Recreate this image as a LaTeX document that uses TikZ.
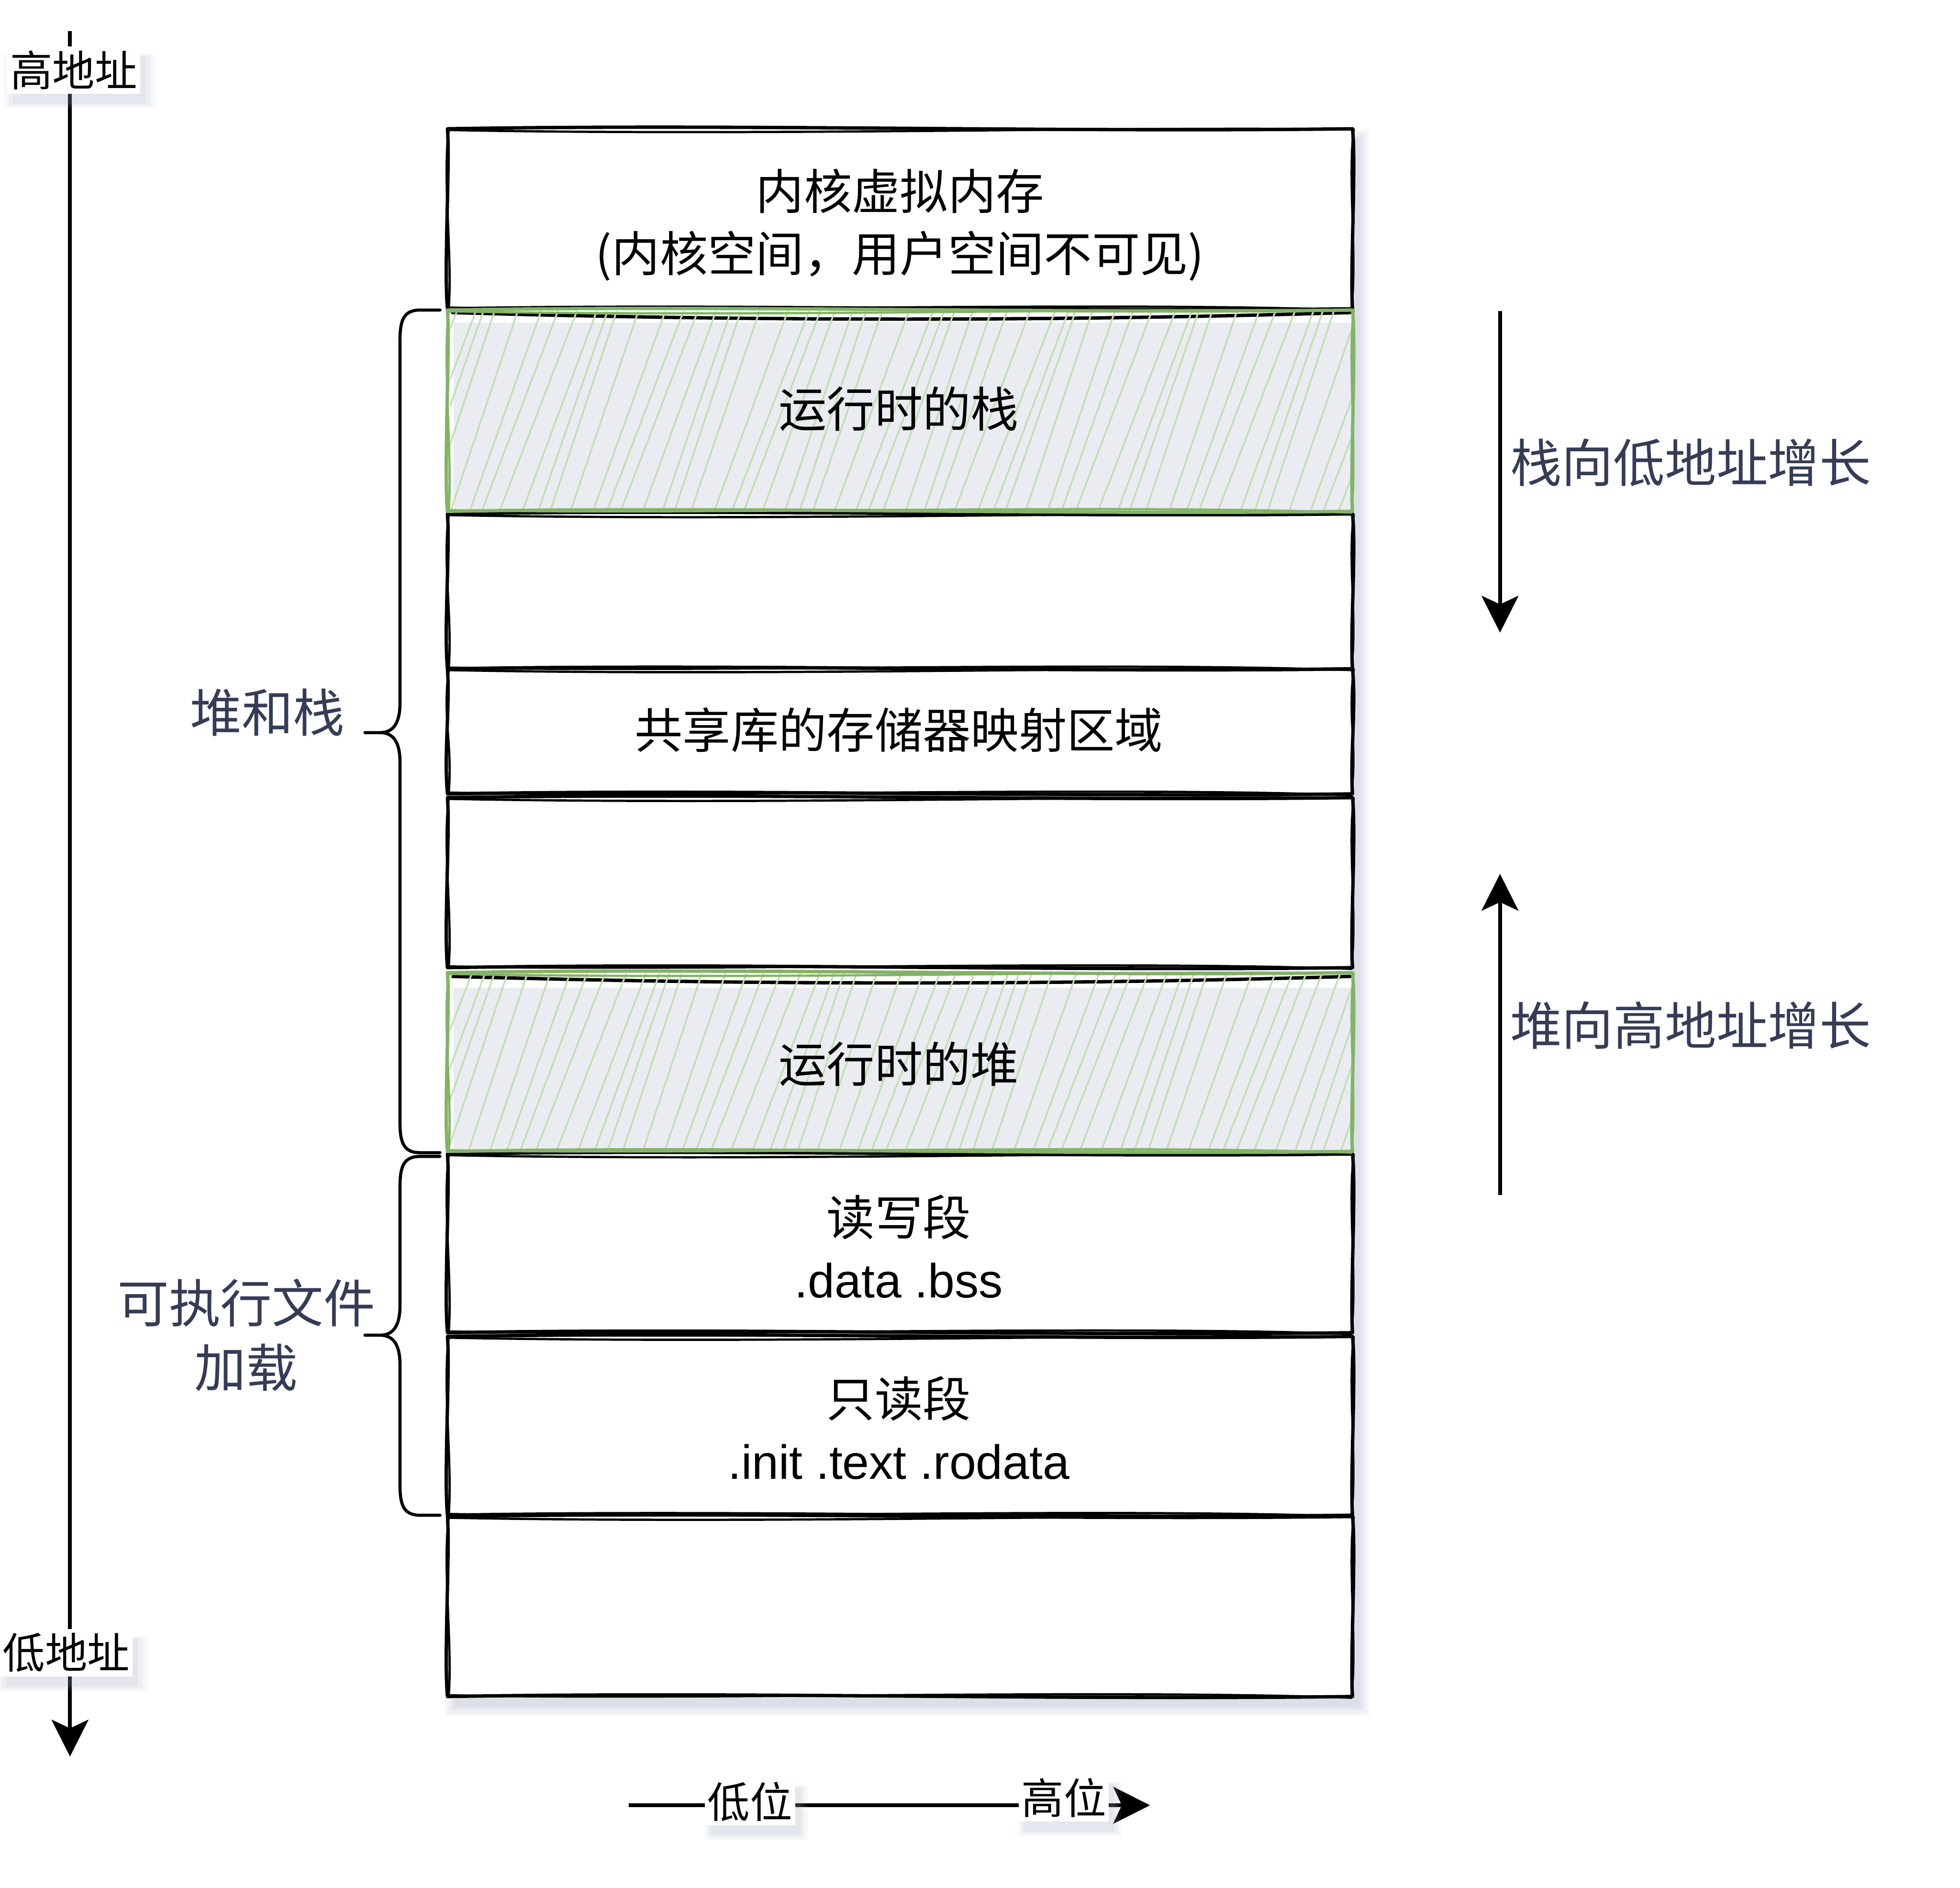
\documentclass[tikz,border=0pt]{standalone}
\usepackage{fontspec}
\setmainfont{Liberation Sans}
\newfontfamily\cjk{Noto Sans CJK SC}
\newfontfamily\lat{Liberation Sans}
\usetikzlibrary{arrows.meta,shadows}
\definecolor{grn}{HTML}{82B366}
\definecolor{hatchc}{HTML}{C3DEB6}
\definecolor{shd}{HTML}{A3A8C2}
\definecolor{shdin}{HTML}{EAECF2}
\definecolor{slate}{RGB}{54,60,85}
\tikzset{
  skl/.style={line width=2.4pt, line join=round, line cap=round},
  skltwo/.style={line width=1.6pt, line join=round, line cap=round},
  hatchl/.style={draw=hatchc, line width=1.2pt},
  arr/.style={line width=2.6pt, -{Stealth[length=26pt,width=26pt,inset=6pt]}},
  boxtext/.style={font=\cjk\fontsize{34}{44}\selectfont, align=center, inner sep=0pt},
  sidetext/.style={font=\cjk\fontsize{36.5}{46}\selectfont, text=slate, align=center, inner sep=0pt},
  axlbl/.style={font=\cjk\fontsize{30}{36}\selectfont, fill=white, inner xsep=2pt, inner ysep=3pt,
     general shadow={shadow xshift=4pt,shadow yshift=-7pt,fill=shd,opacity=0.12,shadow scale=1.0},
     general shadow={shadow xshift=4pt,shadow yshift=-7pt,fill=shd,opacity=0.10,shadow scale=1.07},
     general shadow={shadow xshift=4pt,shadow yshift=-7pt,fill=shd,opacity=0.08,shadow scale=1.14}},
  bracel/.style={line width=2.2pt, line join=round, line cap=round},
}
% sketchy rectangle: [colour]{x1}{y1}{x2}{y2}
\newcommand{\mySkRect}[5][black]{%
  \draw[skl,draw=#1] (#2,#3) .. controls ({#2+240},{#3-4}) and ({#4-240},{#3+3}) .. (#4,#3)
    .. controls ({#4+3},{#3+30}) and ({#4-2},{#5-30}) .. (#4,#5)
    .. controls ({#4-240},{#5+3}) and ({#2+240},{#5-4}) .. (#2,#5)
    .. controls ({#2-3},{#5-30}) and ({#2+2},{#3+30}) .. cycle;
  \draw[skltwo,draw=#1] ({#2+1},{#3+1}) .. controls ({#2+260},{#3+6}) and ({#4-200},{#3-2}) .. ({#4+1},{#3+0.5})
    .. controls ({#4-4},{#3+40}) and ({#4+4},{#5-40}) .. ({#4-1},{#5+1})
    .. controls ({#4-200},{#5-6}) and ({#2+200},{#5+3}) .. ({#2+1},{#5-1})
    .. controls ({#2+4},{#5-40}) and ({#2-4},{#3+40}) .. cycle;
}
\begin{document}
\begin{tikzpicture}[x=0.03112cm,y=-0.03112cm]
\useasboundingbox (0,0) rectangle (1568,1510);
\fill[white] (0,0) rectangle (1568,1510);

% column shadow (soft)
\foreach \k/\op in {0/0.10,2/0.10,4/0.09,6/0.07,8/0.05}
  \fill[shd,opacity=\op] ({364-\k},{111-\k}) rectangle ({1088+\k},{1365+\k});
\fill[white] (358,103) rectangle (1082,1357);
% shadow visible through hatched boxes
\fill[shdin] (363,258) rectangle (1082,410);
\fill[shdin] (363,790) rectangle (1082,922);

% white boxes
\mySkRect{358}{103}{1082}{247}
\mySkRect{358}{411}{1082}{535}
\mySkRect{358}{535}{1082}{635}
\mySkRect{358}{638}{1082}{774}
\mySkRect{358}{923}{1082}{1066}
\mySkRect{358}{1069}{1082}{1212}
\mySkRect{358}{1213}{1082}{1357}

% black lines under the hatching (look dashed)
\draw[skl] (362,250) .. controls (600,257) and (850,257) .. (1080,250);
\draw[skl] (362,781) .. controls (600,788) and (850,788) .. (1080,781);

% hatching
\begin{scope}
  \clip (360,249) rectangle (1081,409);
  \foreach \i in {0,...,56}
    \draw[hatchl] ({300+\i*14+3*sin(\i*97)},418) -- ++({64+5*cos(\i*53)},-178);
\end{scope}
\begin{scope}
  \clip (360,779) rectangle (1081,921);
  \foreach \i in {0,...,56}
    \draw[hatchl] ({302+\i*14+3*sin(\i*71)},930) -- ++({58+5*cos(\i*37)},-160);
\end{scope}

% green hatched boxes
\mySkRect[grn]{358}{248}{1082}{409}
\mySkRect[grn]{358}{778}{1082}{921}

% box labels
\node[boxtext] (kern) at (720,180) {内核虚拟内存\\(内核空间，用户空间不可见)};
\node[boxtext] (stack) at (719,327) {运行时的栈};
\node[boxtext] (shlib) at (719,584) {共享库的存储器映射区域};
\node[boxtext] (heap) at (719,851) {运行时的堆};
\node[boxtext] (rw) at (719,997) {读写段\\{\lat .data .bss}};
\node[boxtext] (ro) at (719,1142) {只读段\\{\lat .init .text .rodata}};

% braces
\draw[bracel] (352,248) -- (336,248) .. controls (323,248) and (320,256) .. (320,272)
  -- (320,562) .. controls (320,578) and (315,586) .. (304,586) -- (292,586)
  -- (304,586) .. controls (315,586) and (320,594) .. (320,610)
  -- (320,898) .. controls (320,914) and (323,922) .. (336,922) -- (352,922);
\draw[bracel] (352,925) -- (336,925) .. controls (323,925) and (320,933) .. (320,949)
  -- (320,1044) .. controls (320,1060) and (315,1068) .. (304,1068) -- (292,1068)
  -- (304,1068) .. controls (315,1068) and (320,1076) .. (320,1092)
  -- (320,1188) .. controls (320,1204) and (323,1212) .. (336,1212) -- (352,1212);
\node[sidetext] (hs) at (214,570) {堆和栈};
\node[sidetext] (exe) at (197,1068) {可执行文件\\加载};

% left address axis
\coordinate (axt) at (56,25);
\coordinate (axb) at (56,1405);
\draw[arr] (axt) -- (axb);
\node[axlbl] (hi) at (59,56) {高地址};
\node[axlbl] (lo) at (53,1322) {低地址};

% growth arrows
\coordinate (s1) at (1200,249);
\coordinate (s2) at (1200,506);
\draw[arr] (s1) -- (s2);
\node[sidetext,anchor=west] (sgrow) at (1208,370) {栈向低地址增长};
\coordinate (h1) at (1200,956);
\coordinate (h2) at (1200,699);
\draw[arr] (h1) -- (h2);
\node[sidetext,anchor=west] (hgrow) at (1208,820) {堆向高地址增长};

% bottom bit-order arrow
\coordinate (b1) at (503,1444);
\coordinate (b2) at (920,1444);
\draw[arr] (b1) -- (b2);
\node[axlbl] (lowbit) at (600,1441) {低位};
\node[axlbl] (highbit) at (851,1438) {高位};
\end{tikzpicture}
\end{document}
